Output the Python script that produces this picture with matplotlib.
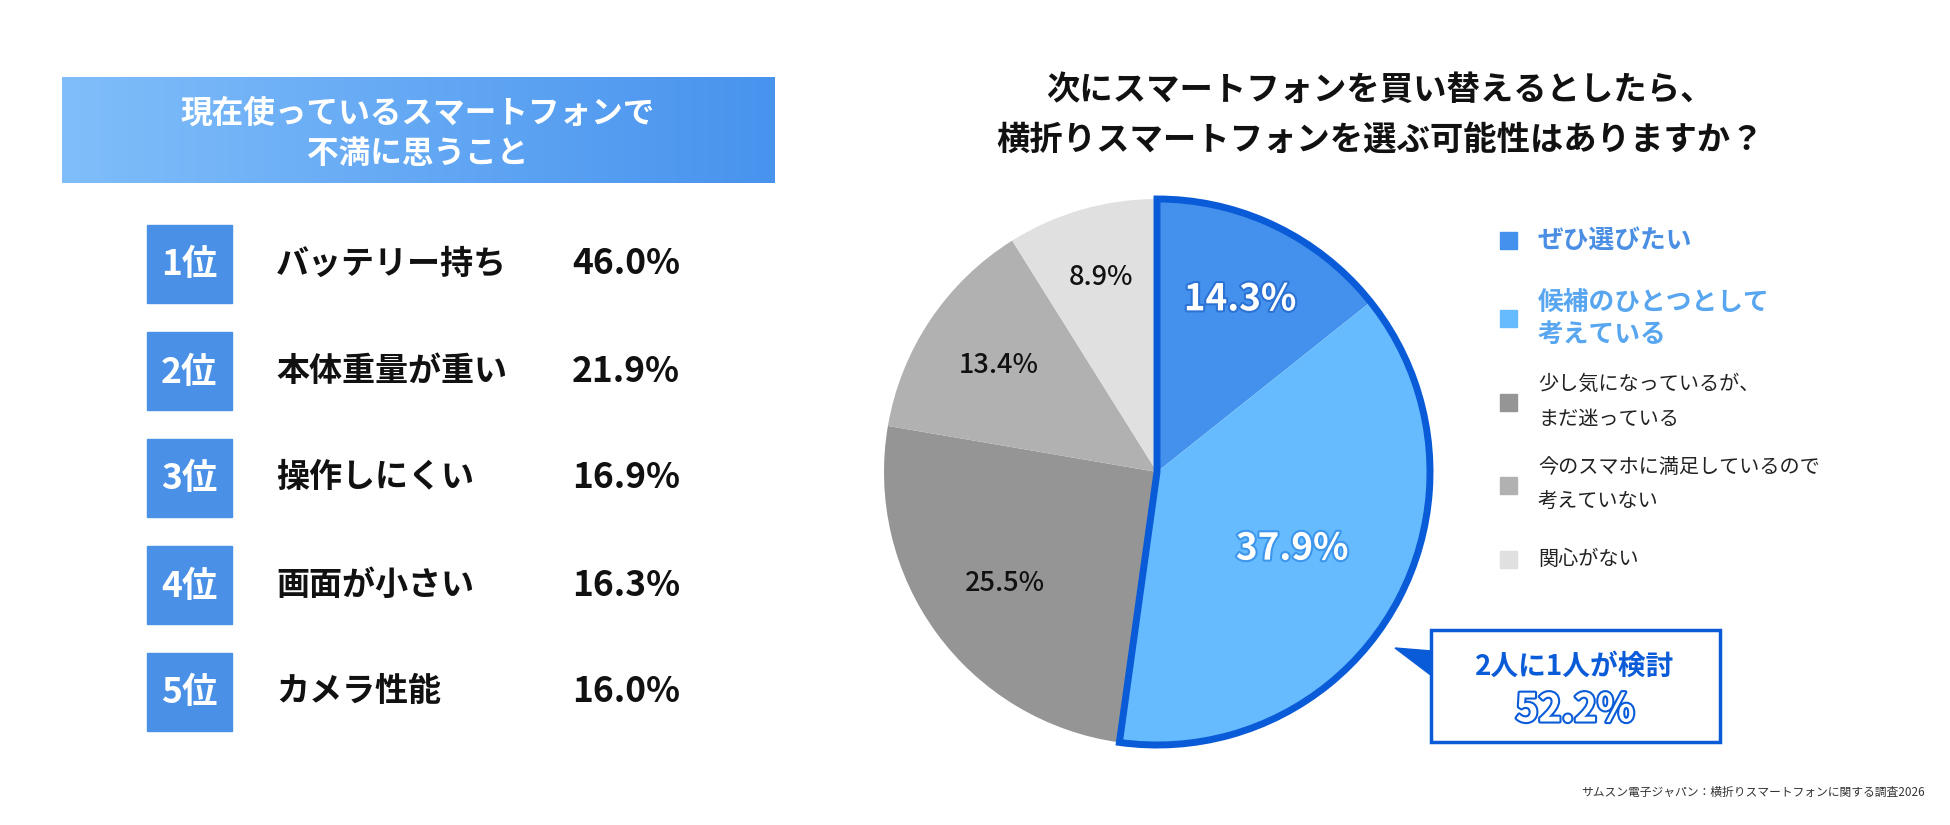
import matplotlib
matplotlib.use("Agg")
import matplotlib.pyplot as plt
import matplotlib.patheffects as pe
from matplotlib.patches import Rectangle, Wedge, Polygon
from matplotlib.colors import LinearSegmentedColormap
import numpy as np

plt.rcParams['font.family'] = ['Noto Sans CJK JP', 'DejaVu Sans']

W, H = 1950, 825

# left panel: ranking
header = '現在使っているスマートフォンで\n不満に思うこと'
ranks = ['1位', '2位', '3位', '4位', '5位']
complaints = ['バッテリー持ち', '本体重量が重い', '操作しにくい', '画面が小さい', 'カメラ性能']
complaint_pct = [46.0, 21.9, 16.9, 16.3, 16.0]

# right panel: pie
title = '次にスマートフォンを買い替えるとしたら、\n横折りスマートフォンを選ぶ可能性はありますか？'
answers = ['ぜひ選びたい', '候補のひとつとして\n考えている', '少し気になっているが、\nまだ迷っている',
           '今のスマホに満足しているので\n考えていない', '関心がない']
answer_pct = [14.3, 37.9, 25.5, 13.4, 8.9]
pie_colors = ['#4391EC', '#66BBFF', '#959595', '#B1B1B1', '#E0E0E0']
legend_text_colors = ['#4A8FE3', '#58A6F0', '#222222', '#222222', '#222222']
callout_title = '2人に1人が検討'
source = 'サムスン電子ジャパン：横折りスマートフォンに関する調査2026'

outline_blue = '#0A5BD8'
rank_blue = '#4A90E6'

fig = plt.figure(figsize=(19.5, 8.25), dpi=100)
bg = fig.add_axes([0, 0, 1, 1])
bg.axis('off')

# header with gradient
grad = np.linspace(0, 1, 256).reshape(1, -1)
cmap = LinearSegmentedColormap.from_list('hdr', ['#80BEFA', '#4893EE'])
bg.imshow(grad, extent=(62, 775, 183, 77), aspect='auto', cmap=cmap, zorder=1)
hdr_lines = header.split('\n')
for i, line in enumerate(hdr_lines):
    bg.text(418, 114 + 40 * i, line, ha='center', va='center', color='white',
            fontsize=22.8, fontweight='bold', zorder=2)

# ranking rows
row_y0, row_gap = 264, 107
for i, (rk, lab, v) in enumerate(zip(ranks, complaints, complaint_pct)):
    y = row_y0 + row_gap * i
    bg.add_patch(Rectangle((147, y - 39), 85, 78, color=rank_blue, zorder=1))
    bg.text(189, y + 1, rk, ha='center', va='center', color='white',
            fontsize=25.5, fontweight='bold', zorder=2)
    bg.text(276, y, lab, ha='left', va='center', color='#111111',
            fontsize=23.8, fontweight='bold')
    bg.text(680, y, f'{v:.1f}%', ha='right', va='center', color='#111111',
            fontsize=25.5, fontweight='bold')

# title
for i, line in enumerate(title.split('\n')):
    bg.text(1380, 90 + 50 * i, line, ha='center', va='center', color='#111111',
            fontsize=24, fontweight='bold')

# legend
leg_y = [240, 318, 402, 485, 559]
for lab, col, tcol, y in zip(answers, pie_colors, legend_text_colors, leg_y):
    bg.add_patch(Rectangle((1500, y - 8.5), 17, 17, color=col))
    lines = lab.split('\n')
    blue = tcol != '#222222'
    gap = 32 if blue else 35
    n = len(lines)
    for j, line in enumerate(lines):
        yy = y + (j - (n - 1) / 2) * gap
        bg.text(1538, yy, line, ha='left', va='center', color=tcol,
                fontsize=18.5 if blue else 14.5,
                fontweight='bold' if blue else 'normal')

# callout
bg.add_patch(Rectangle((1431, 630), 289, 112, facecolor='white',
                       edgecolor=outline_blue, lw=2.5, zorder=3))
bg.add_patch(Polygon([(1395, 648), (1432, 651), (1432, 676)], closed=True,
                     color=outline_blue, zorder=3))
bg.text(1575, 667, callout_title, ha='center', va='center', color=outline_blue,
        fontsize=20, fontweight='bold', zorder=4)
bg.text(1575, 710, f'{answer_pct[0] + answer_pct[1]:.1f}%', ha='center', va='center',
        color='white', fontsize=28, fontweight='bold', zorder=4,
        path_effects=[pe.withStroke(linewidth=3, foreground=outline_blue)])

# source
bg.text(1925, 792, source, ha='right', va='center', color='#333333', fontsize=8.5)

bg.set_xlim(0, W)
bg.set_ylim(H, 0)

# pie
cx, cy, r = 1157, 472, 273
ext = 1.1
pax = fig.add_axes([(cx - r * ext) / W, (H - cy - r * ext) / H, 2 * r * ext / W, 2 * r * ext / H])
pax.pie(answer_pct, colors=pie_colors, startangle=90, counterclock=False, radius=1,
        wedgeprops=dict(linewidth=0))
pax.set_xlim(-ext, ext)
pax.set_ylim(-ext, ext)
pax.set_aspect('equal')

fracs = np.array(answer_pct) / sum(answer_pct)
starts = 90 - 360 * np.concatenate([[0], np.cumsum(fracs)[:-1]])
mids = np.radians(starts - 180 * fracs)

# outline round the two "positive" wedges
pos_span = 360 * (fracs[0] + fracs[1])
pax.add_patch(Wedge((0, 0), 1.0, 90 - pos_span, 90, fill=False, edgecolor=outline_blue,
                    lw=5, joinstyle='miter', zorder=5))

label_r = [0.70, 0.57, 0.69, 0.70, 0.74]
stroke_cols = ['#2C72D4', '#3C97EC', None, None, None]
for m, rr, v, sc in zip(mids, label_r, answer_pct, stroke_cols):
    x, y = rr * np.cos(m), rr * np.sin(m)
    if sc:
        pax.text(x, y, f'{v:.1f}%', ha='center', va='center', color='white',
                 fontsize=26.5, fontweight='bold', zorder=6,
                 path_effects=[pe.withStroke(linewidth=3, foreground=sc)])
    else:
        pax.text(x, y, f'{v:.1f}%', ha='center', va='center', color='#111111',
                 fontsize=19.5, fontweight='medium', zorder=6)

fig.savefig('out.png', dpi=100)
